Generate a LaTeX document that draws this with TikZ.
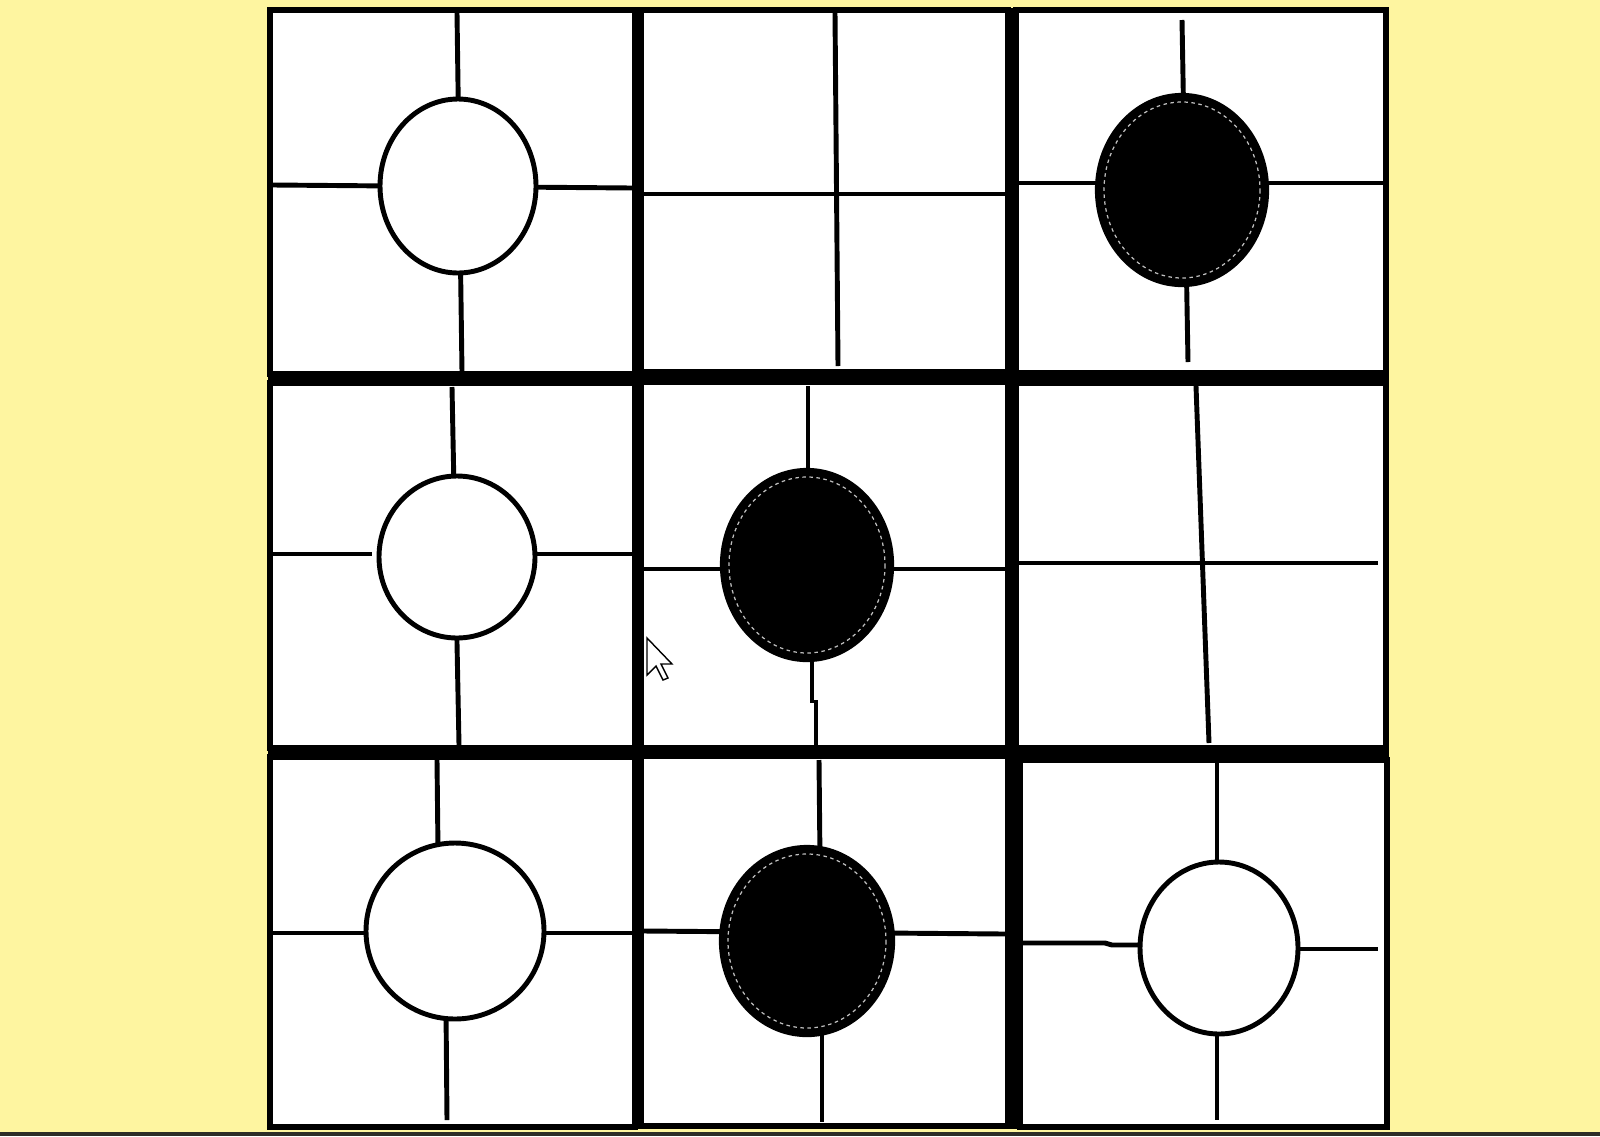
\documentclass[tikz,border=0pt]{standalone}
\definecolor{bgyellow}{RGB}{254,245,160}
\definecolor{darkstrip}{RGB}{45,45,40}
\tikzset{
  cellbox/.style={draw=black, fill=white, line width=1.8pt},
  gridline/.style={draw=black, line width=1.4pt},
  whitestone/.style={draw=black, fill=white, line width=1.4pt},
  blackstone/.style={draw=black, fill=black, line width=1.2pt},
  innerring/.style={draw=white!75!black, line width=0.35pt, dash pattern=on 1pt off 1pt},
  cursorshape/.style={draw=black, fill=white, line width=0.4pt, line join=miter}
}
\begin{document}
\begin{tikzpicture}[x=0.01cm, y=-0.01cm]
\useasboundingbox (0,0) rectangle (1600,1136);
\fill[bgyellow] (0,0) rectangle (1600,1136);
\fill[darkstrip] (0,1132) rectangle (1600,1136);
\fill[black] (268,8) rectangle (1389,1129);

% cells
\draw[cellbox] (270,10) rectangle (635,374);
\draw[cellbox] (641,10) rectangle (1008,372);
\draw[cellbox] (1016,10) rectangle (1386,373);
\draw[cellbox] (270,383) rectangle (635,748);
\draw[cellbox] (641,382) rectangle (1008,748);
\draw[cellbox] (1016,383) rectangle (1386,748);
\draw[cellbox] (270,757) rectangle (635,1127);
\draw[cellbox] (641,756) rectangle (1008,1126);
\draw[cellbox] (1020,760) rectangle (1387,1127);

% cell 1,1
\draw[gridline] (457,13) -- (462,372);
\draw[gridline] (273,185) -- (632,188);
\draw[whitestone] (458,186) ellipse [x radius=78, y radius=87];
% cell 1,2
\draw[gridline] (835,13) -- (838,366);
\draw[gridline] (644,194) -- (1005,194);
% cell 1,3
\draw[gridline] (1182,20) -- (1188,362);
\draw[gridline] (1019,183) -- (1383,183);
\draw[blackstone] (1182,190) ellipse [x radius=85, y radius=95];
\draw[innerring] (1182,190) ellipse [x radius=78, y radius=88];
% cell 2,1
\draw[gridline] (452,387) -- (459,745);
\draw[gridline] (273,554) -- (372,554);
\draw[gridline] (532,554) -- (632,554);
\draw[whitestone] (457,557) ellipse [x radius=78, y radius=81];
% cell 2,2
\draw[gridline] (808,386) -- (808,480);
\draw[gridline] (812,650) -- (812,703);
\draw[gridline] (816,700) -- (816,746);
\draw[gridline] (644,569) -- (1005,569);
\draw[blackstone] (807,565) ellipse [x radius=85, y radius=95];
\draw[innerring] (807,565) ellipse [x radius=78, y radius=88];
% cell 2,3
\draw[gridline] (1196,386) -- (1209,743);
\draw[gridline] (1019,563) -- (1378,563);
% cell 3,1
\draw[gridline] (437,760) -- (438,850);
\draw[gridline] (446,1010) -- (447,1120);
\draw[gridline] (270,933) -- (372,933);
\draw[gridline] (540,933) -- (632,933);
\draw[whitestone] (455,931) ellipse [x radius=89, y radius=88];
% cell 3,2
\draw[gridline] (819,760) -- (820,860);
\draw[gridline] (822,1020) -- (822,1122);
\draw[gridline] (644,931) -- (1005,934);
\draw[blackstone] (807,941) ellipse [x radius=86, y radius=94];
\draw[innerring] (807,941) ellipse [x radius=79, y radius=87];
% cell 3,3
\draw[gridline] (1217,763) -- (1217,1120);
\draw[gridline] (1023,943) -- (1105,943) -- (1112,945) -- (1150,945);
\draw[gridline] (1290,949) -- (1378,949);
\draw[whitestone] (1219,948) ellipse [x radius=79, y radius=86];

% mouse cursor
\draw[cursorshape] (647,638) -- (647,675) -- (656,666) -- (663,680) -- (668,678) -- (661,664) -- (672,664) -- cycle;
\end{tikzpicture}
\end{document}
